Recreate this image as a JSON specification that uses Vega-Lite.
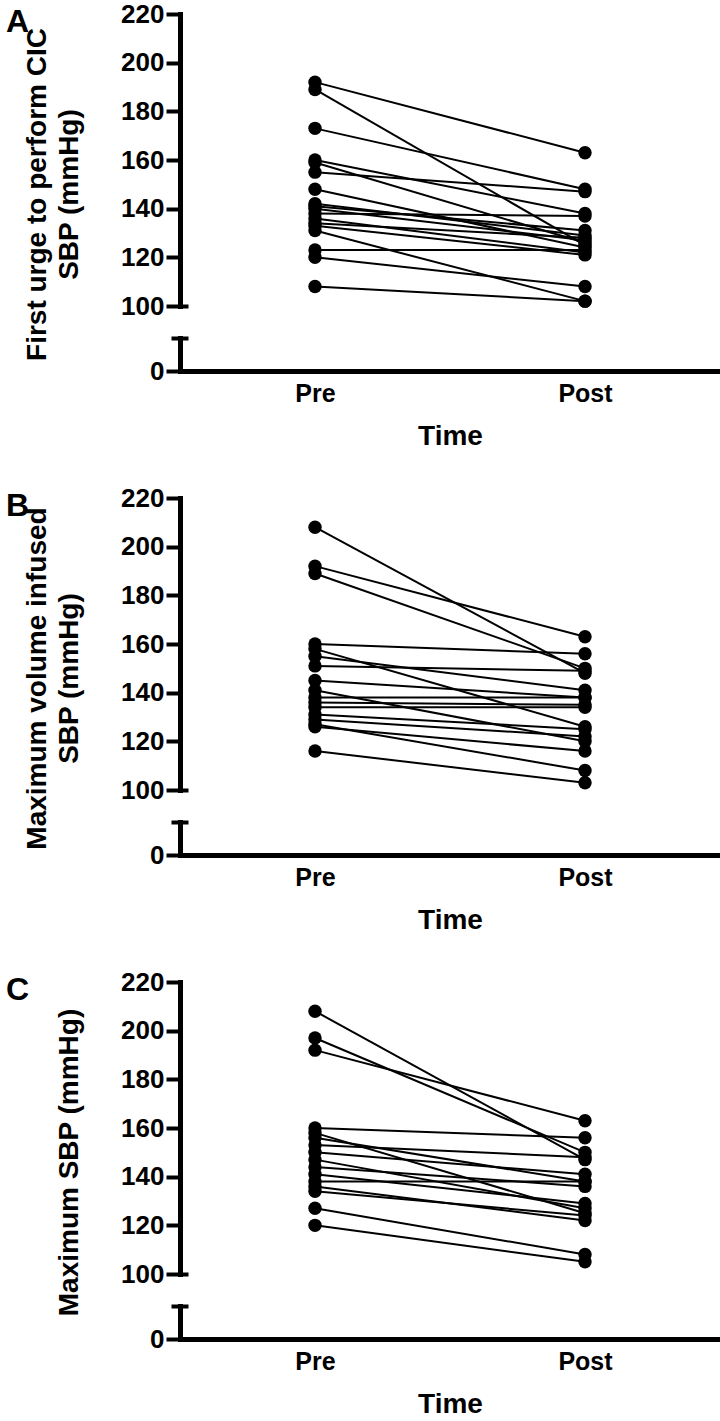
{
  "$schema": "https://vega.github.io/schema/vega-lite/v6.json",
  "padding": {"left": 6, "top": 1, "right": 0, "bottom": 0},
  "bounds": "flush",
  "spacing": 127,
  "config": {"view": {"stroke": null}, "font": "Liberation Sans"},
  "datasets": {
    "A": [
      {"id": 1, "time": "Pre", "sbp": 192}, {"id": 1, "time": "Post", "sbp": 163},
      {"id": 2, "time": "Pre", "sbp": 189}, {"id": 2, "time": "Post", "sbp": 125},
      {"id": 3, "time": "Pre", "sbp": 173}, {"id": 3, "time": "Post", "sbp": 148},
      {"id": 4, "time": "Pre", "sbp": 160}, {"id": 4, "time": "Post", "sbp": 138},
      {"id": 5, "time": "Pre", "sbp": 159}, {"id": 5, "time": "Post", "sbp": 126},
      {"id": 6, "time": "Pre", "sbp": 155}, {"id": 6, "time": "Post", "sbp": 147},
      {"id": 7, "time": "Pre", "sbp": 148}, {"id": 7, "time": "Post", "sbp": 124},
      {"id": 8, "time": "Pre", "sbp": 142}, {"id": 8, "time": "Post", "sbp": 129},
      {"id": 9, "time": "Pre", "sbp": 141}, {"id": 9, "time": "Post", "sbp": 131},
      {"id": 10, "time": "Pre", "sbp": 140}, {"id": 10, "time": "Post", "sbp": 127},
      {"id": 11, "time": "Pre", "sbp": 138}, {"id": 11, "time": "Post", "sbp": 137},
      {"id": 12, "time": "Pre", "sbp": 136}, {"id": 12, "time": "Post", "sbp": 122},
      {"id": 13, "time": "Pre", "sbp": 134}, {"id": 13, "time": "Post", "sbp": 128},
      {"id": 14, "time": "Pre", "sbp": 133}, {"id": 14, "time": "Post", "sbp": 121},
      {"id": 15, "time": "Pre", "sbp": 131}, {"id": 15, "time": "Post", "sbp": 102},
      {"id": 16, "time": "Pre", "sbp": 123}, {"id": 16, "time": "Post", "sbp": 123},
      {"id": 17, "time": "Pre", "sbp": 120}, {"id": 17, "time": "Post", "sbp": 108},
      {"id": 18, "time": "Pre", "sbp": 108}, {"id": 18, "time": "Post", "sbp": 102}
    ],
    "B": [
      {"id": 1, "time": "Pre", "sbp": 208}, {"id": 1, "time": "Post", "sbp": 148},
      {"id": 2, "time": "Pre", "sbp": 192}, {"id": 2, "time": "Post", "sbp": 163},
      {"id": 3, "time": "Pre", "sbp": 189}, {"id": 3, "time": "Post", "sbp": 150},
      {"id": 4, "time": "Pre", "sbp": 160}, {"id": 4, "time": "Post", "sbp": 156},
      {"id": 5, "time": "Pre", "sbp": 158}, {"id": 5, "time": "Post", "sbp": 126},
      {"id": 6, "time": "Pre", "sbp": 155}, {"id": 6, "time": "Post", "sbp": 141},
      {"id": 7, "time": "Pre", "sbp": 151}, {"id": 7, "time": "Post", "sbp": 149},
      {"id": 8, "time": "Pre", "sbp": 145}, {"id": 8, "time": "Post", "sbp": 138},
      {"id": 9, "time": "Pre", "sbp": 141}, {"id": 9, "time": "Post", "sbp": 120},
      {"id": 10, "time": "Pre", "sbp": 138}, {"id": 10, "time": "Post", "sbp": 138},
      {"id": 11, "time": "Pre", "sbp": 136}, {"id": 11, "time": "Post", "sbp": 135},
      {"id": 12, "time": "Pre", "sbp": 134}, {"id": 12, "time": "Post", "sbp": 134},
      {"id": 13, "time": "Pre", "sbp": 131}, {"id": 13, "time": "Post", "sbp": 125},
      {"id": 14, "time": "Pre", "sbp": 129}, {"id": 14, "time": "Post", "sbp": 122},
      {"id": 15, "time": "Pre", "sbp": 127}, {"id": 15, "time": "Post", "sbp": 108},
      {"id": 16, "time": "Pre", "sbp": 126}, {"id": 16, "time": "Post", "sbp": 116},
      {"id": 17, "time": "Pre", "sbp": 116}, {"id": 17, "time": "Post", "sbp": 103}
    ],
    "C": [
      {"id": 1, "time": "Pre", "sbp": 208}, {"id": 1, "time": "Post", "sbp": 147},
      {"id": 2, "time": "Pre", "sbp": 197}, {"id": 2, "time": "Post", "sbp": 150},
      {"id": 3, "time": "Pre", "sbp": 192}, {"id": 3, "time": "Post", "sbp": 163},
      {"id": 4, "time": "Pre", "sbp": 160}, {"id": 4, "time": "Post", "sbp": 156},
      {"id": 5, "time": "Pre", "sbp": 158}, {"id": 5, "time": "Post", "sbp": 125},
      {"id": 6, "time": "Pre", "sbp": 156}, {"id": 6, "time": "Post", "sbp": 138},
      {"id": 7, "time": "Pre", "sbp": 153}, {"id": 7, "time": "Post", "sbp": 148},
      {"id": 8, "time": "Pre", "sbp": 150}, {"id": 8, "time": "Post", "sbp": 141},
      {"id": 9, "time": "Pre", "sbp": 147}, {"id": 9, "time": "Post", "sbp": 127},
      {"id": 10, "time": "Pre", "sbp": 144}, {"id": 10, "time": "Post", "sbp": 136},
      {"id": 11, "time": "Pre", "sbp": 141}, {"id": 11, "time": "Post", "sbp": 129},
      {"id": 12, "time": "Pre", "sbp": 138}, {"id": 12, "time": "Post", "sbp": 138},
      {"id": 13, "time": "Pre", "sbp": 136}, {"id": 13, "time": "Post", "sbp": 122},
      {"id": 14, "time": "Pre", "sbp": 134}, {"id": 14, "time": "Post", "sbp": 124},
      {"id": 15, "time": "Pre", "sbp": 127}, {"id": 15, "time": "Post", "sbp": 108},
      {"id": 16, "time": "Pre", "sbp": 120}, {"id": 16, "time": "Post", "sbp": 105}
    ]
  },
  "vconcat": [
    {
      "title": {"text": "A", "anchor": "start", "frame": "group", "fontSize": 32, "fontWeight": "bold", "color": "black", "dx": -174, "dy": 38, "offset": 0},
      "width": 540, "height": 357,
      "data": {"name": "A"},
      "layer": [
        {
          "encoding": {
            "x": {"field": "time", "type": "nominal", "sort": ["Pre", "Post"], "scale": {"type": "point", "padding": 0.5},
                  "axis": {"title": "Time", "labelAngle": 0, "ticks": false, "domainWidth": 5, "domainColor": "black", "domainCap": "square", "labelFontSize": 25, "labelFontWeight": "bold", "labelColor": "black", "labelPadding": 10, "titleFontSize": 28, "titleFontWeight": "bold", "titleColor": "black", "titlePadding": 16}},
            "y": {"field": "sbp", "type": "quantitative", "scale": {"domain": [100, 220], "range": [292, 0], "zero": false, "nice": false},
                  "axis": {"orient": "left", "values": [100, 120, 140, 160, 180, 200, 220], "title": ["First urge to perform CIC", "SBP (mmHg)"], "grid": false, "domainWidth": 5, "domainColor": "black", "domainCap": "square", "tickColor": "black", "tickWidth": 4, "tickSize": 14, "labelPadding": 2, "labelFontSize": 26, "labelFontWeight": "bold", "labelColor": "black", "labelFlush": false, "labelOverlap": false, "titleFontSize": 28, "titleFontWeight": "bold", "titleColor": "black", "titleLineHeight": 32, "titlePadding": 37, "titleY": 180}}
          },
          "layer": [
            {"mark": {"type": "line", "color": "black", "strokeWidth": 2}, "encoding": {"detail": {"field": "id"}}},
            {"mark": {"type": "point", "filled": true, "color": "black", "size": 180, "opacity": 1}}
          ]
        },
        {
          "data": {"values": [{}]},
          "mark": {"type": "rule", "opacity": 0},
          "encoding": {
            "y": {"datum": 0, "type": "quantitative", "scale": {"domain": [0, 13.56], "range": [357, 324], "zero": false, "nice": false},
                  "axis": {"orient": "left", "values": [0], "title": null, "grid": false, "domainWidth": 5, "domainColor": "black", "domainCap": "square", "tickColor": "black", "tickWidth": 4, "tickSize": 14, "labelPadding": 2, "labelFontSize": 26, "labelFontWeight": "bold", "labelColor": "black", "labelFlush": false, "labelOverlap": false}}
          }
        },
        {
          "data": {"values": [{}]},
          "mark": {"type": "rule", "opacity": 0},
          "encoding": {
            "y": {"datum": 13.56, "type": "quantitative", "scale": {"domain": [13.56, 100], "range": [324, 292], "zero": false, "nice": false},
                  "axis": {"orient": "left", "values": [13.56], "title": null, "grid": false, "domain": false, "labels": false, "tickColor": "black", "tickWidth": 4, "tickSize": 9}}
          }
        },
        {
          "data": {"values": [{}]},
          "mark": {"type": "rule", "opacity": 0},
          "encoding": {
            "y": {"datum": 100, "type": "quantitative", "scale": {"domain": [13.56, 100], "range": [324, 292], "zero": false, "nice": false},
                  "axis": {"orient": "left", "values": [13.56, 100], "title": null, "grid": false, "domain": false, "labels": false, "tickColor": "black", "tickWidth": 4, "tickSize": -8}}
          }
        }
      ],
      "resolve": {"scale": {"y": "independent"}, "axis": {"y": "independent"}}
    },
    {
      "title": {"text": "B", "anchor": "start", "frame": "group", "fontSize": 32, "fontWeight": "bold", "color": "black", "dx": -174, "dy": 38, "offset": 0},
      "width": 540, "height": 357,
      "data": {"name": "B"},
      "layer": [
        {
          "encoding": {
            "x": {"field": "time", "type": "nominal", "sort": ["Pre", "Post"], "scale": {"type": "point", "padding": 0.5},
                  "axis": {"title": "Time", "labelAngle": 0, "ticks": false, "domainWidth": 5, "domainColor": "black", "domainCap": "square", "labelFontSize": 25, "labelFontWeight": "bold", "labelColor": "black", "labelPadding": 10, "titleFontSize": 28, "titleFontWeight": "bold", "titleColor": "black", "titlePadding": 16}},
            "y": {"field": "sbp", "type": "quantitative", "scale": {"domain": [100, 220], "range": [292, 0], "zero": false, "nice": false},
                  "axis": {"orient": "left", "values": [100, 120, 140, 160, 180, 200, 220], "title": ["Maximum volume infused", "SBP (mmHg)"], "grid": false, "domainWidth": 5, "domainColor": "black", "domainCap": "square", "tickColor": "black", "tickWidth": 4, "tickSize": 14, "labelPadding": 2, "labelFontSize": 26, "labelFontWeight": "bold", "labelColor": "black", "labelFlush": false, "labelOverlap": false, "titleFontSize": 28, "titleFontWeight": "bold", "titleColor": "black", "titleLineHeight": 32, "titlePadding": 37, "titleY": 180}}
          },
          "layer": [
            {"mark": {"type": "line", "color": "black", "strokeWidth": 2}, "encoding": {"detail": {"field": "id"}}},
            {"mark": {"type": "point", "filled": true, "color": "black", "size": 180, "opacity": 1}}
          ]
        },
        {
          "data": {"values": [{}]},
          "mark": {"type": "rule", "opacity": 0},
          "encoding": {
            "y": {"datum": 0, "type": "quantitative", "scale": {"domain": [0, 13.56], "range": [357, 324], "zero": false, "nice": false},
                  "axis": {"orient": "left", "values": [0], "title": null, "grid": false, "domainWidth": 5, "domainColor": "black", "domainCap": "square", "tickColor": "black", "tickWidth": 4, "tickSize": 14, "labelPadding": 2, "labelFontSize": 26, "labelFontWeight": "bold", "labelColor": "black", "labelFlush": false, "labelOverlap": false}}
          }
        },
        {
          "data": {"values": [{}]},
          "mark": {"type": "rule", "opacity": 0},
          "encoding": {
            "y": {"datum": 13.56, "type": "quantitative", "scale": {"domain": [13.56, 100], "range": [324, 292], "zero": false, "nice": false},
                  "axis": {"orient": "left", "values": [13.56], "title": null, "grid": false, "domain": false, "labels": false, "tickColor": "black", "tickWidth": 4, "tickSize": 9}}
          }
        },
        {
          "data": {"values": [{}]},
          "mark": {"type": "rule", "opacity": 0},
          "encoding": {
            "y": {"datum": 100, "type": "quantitative", "scale": {"domain": [13.56, 100], "range": [324, 292], "zero": false, "nice": false},
                  "axis": {"orient": "left", "values": [13.56, 100], "title": null, "grid": false, "domain": false, "labels": false, "tickColor": "black", "tickWidth": 4, "tickSize": -8}}
          }
        }
      ],
      "resolve": {"scale": {"y": "independent"}, "axis": {"y": "independent"}}
    },
    {
      "title": {"text": "C", "anchor": "start", "frame": "group", "fontSize": 32, "fontWeight": "bold", "color": "black", "dx": -174, "dy": 38, "offset": 0},
      "width": 540, "height": 357,
      "data": {"name": "C"},
      "layer": [
        {
          "encoding": {
            "x": {"field": "time", "type": "nominal", "sort": ["Pre", "Post"], "scale": {"type": "point", "padding": 0.5},
                  "axis": {"title": "Time", "labelAngle": 0, "ticks": false, "domainWidth": 5, "domainColor": "black", "domainCap": "square", "labelFontSize": 25, "labelFontWeight": "bold", "labelColor": "black", "labelPadding": 10, "titleFontSize": 28, "titleFontWeight": "bold", "titleColor": "black", "titlePadding": 16}},
            "y": {"field": "sbp", "type": "quantitative", "scale": {"domain": [100, 220], "range": [292, 0], "zero": false, "nice": false},
                  "axis": {"orient": "left", "values": [100, 120, 140, 160, 180, 200, 220], "title": "Maximum SBP (mmHg)", "grid": false, "domainWidth": 5, "domainColor": "black", "domainCap": "square", "tickColor": "black", "tickWidth": 4, "tickSize": 14, "labelPadding": 2, "labelFontSize": 26, "labelFontWeight": "bold", "labelColor": "black", "labelFlush": false, "labelOverlap": false, "titleFontSize": 28, "titleFontWeight": "bold", "titleColor": "black", "titleLineHeight": 32, "titlePadding": 37, "titleY": 180}}
          },
          "layer": [
            {"mark": {"type": "line", "color": "black", "strokeWidth": 2}, "encoding": {"detail": {"field": "id"}}},
            {"mark": {"type": "point", "filled": true, "color": "black", "size": 180, "opacity": 1}}
          ]
        },
        {
          "data": {"values": [{}]},
          "mark": {"type": "rule", "opacity": 0},
          "encoding": {
            "y": {"datum": 0, "type": "quantitative", "scale": {"domain": [0, 13.56], "range": [357, 324], "zero": false, "nice": false},
                  "axis": {"orient": "left", "values": [0], "title": null, "grid": false, "domainWidth": 5, "domainColor": "black", "domainCap": "square", "tickColor": "black", "tickWidth": 4, "tickSize": 14, "labelPadding": 2, "labelFontSize": 26, "labelFontWeight": "bold", "labelColor": "black", "labelFlush": false, "labelOverlap": false}}
          }
        },
        {
          "data": {"values": [{}]},
          "mark": {"type": "rule", "opacity": 0},
          "encoding": {
            "y": {"datum": 13.56, "type": "quantitative", "scale": {"domain": [13.56, 100], "range": [324, 292], "zero": false, "nice": false},
                  "axis": {"orient": "left", "values": [13.56], "title": null, "grid": false, "domain": false, "labels": false, "tickColor": "black", "tickWidth": 4, "tickSize": 9}}
          }
        },
        {
          "data": {"values": [{}]},
          "mark": {"type": "rule", "opacity": 0},
          "encoding": {
            "y": {"datum": 100, "type": "quantitative", "scale": {"domain": [13.56, 100], "range": [324, 292], "zero": false, "nice": false},
                  "axis": {"orient": "left", "values": [13.56, 100], "title": null, "grid": false, "domain": false, "labels": false, "tickColor": "black", "tickWidth": 4, "tickSize": -8}}
          }
        }
      ],
      "resolve": {"scale": {"y": "independent"}, "axis": {"y": "independent"}}
    }
  ]
}
